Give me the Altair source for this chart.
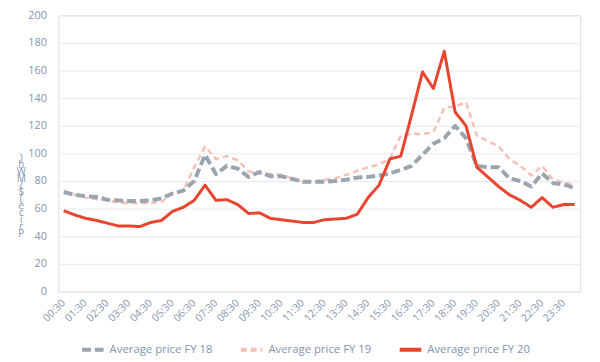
import altair as alt
import pandas as pd

times = []
for h in range(24):
    times.append(f"{h:02d}:30")
    times.append(f"{h+1:02d}:00")

fy18 = [72, 70, 69, 68.5, 66.5, 66, 65.5, 65.5, 66, 67.5, 71, 73, 80, 99, 85, 91,
        89, 83, 86.5, 83.5, 83.5, 81.5, 79.5, 79.5, 79.5, 80, 81, 82.5, 83, 84, 85.5, 88,
        91, 99, 107, 111, 120, 111, 91, 90, 90, 82, 80, 76, 85.5, 78.5, 77.5, 75]
fy19 = [73, 70, 68, 67, 66, 64.5, 64, 64, 64, 65, 71, 73, 90, 105, 96, 98,
        95, 87, 85.5, 85, 84.5, 82, 79.5, 79.5, 81, 82, 84.5, 87.5, 90, 92, 96, 113,
        114, 114, 115.5, 133, 134, 137, 113, 109, 105, 96, 91, 84, 91, 81, 79, 77]
fy20 = [58.5, 55.5, 53, 51.5, 49.5, 47.5, 47.5, 47, 50, 51.5, 58, 61, 66, 77, 66, 66.5,
        63, 56.5, 57, 53, 52, 51, 50, 50, 52, 52.5, 53, 56, 68, 77, 96, 98,
        128, 159, 147, 174, 130, 120, 90, 83, 76, 70, 66, 61, 68, 61, 63, 63]

series = ["Average price FY 18", "Average price FY 19", "Average price FY 20"]
colors = ["#9aa5af", "#f6c0b6", "#e8442f"]
dashes = [[9, 4], [6, 4], [1, 0]]
widths = [4, 2.5, 3]
tick_labels = times[0::2]

rows = []
for name, vals in zip(series, [fy18, fy19, fy20]):
    for t, v in zip(times, vals):
        rows.append({"time": t, "price": v, "series": name})
df = pd.DataFrame(rows)

label_color = "#8496b0"
ytitle = list(reversed(list("Price($/MWh)")))

x = alt.X("time:N", sort=times, scale=alt.Scale(type="point", padding=0.5),
          axis=alt.Axis(values=tick_labels, labelAngle=-45, labelFontSize=10.5,
                        labelColor=label_color, ticks=False, domain=False,
                        labelPadding=6, labelOffset=-4, title=None, grid=False,
                        labelFont="Open Sans"))
y = alt.Y("price:Q", scale=alt.Scale(domain=[0, 200]),
          axis=alt.Axis(values=list(range(0, 201, 20)), ticks=False, domain=False,
                        labelColor=label_color, labelFontSize=11, labelPadding=12,
                        gridColor="#e6ebf2", gridWidth=1, labelFont="Open Sans",
                        title=ytitle, titleAngle=0, titleFontSize=10, titleFontWeight="normal",
                        titleColor=label_color, titleLineHeight=7, titleX=-38, titleY=139,
                        titleBaseline="top", titleAlign="center", titleFont="Open Sans"))
legend = alt.Legend(orient="none", legendX=22, legendY=326, direction="horizontal", title=None,
                    symbolType="stroke", symbolSize=480, symbolStrokeWidth=4,
                    labelFontSize=11.5, labelColor=label_color, columnPadding=20,
                    labelFont="Open Sans")
color = alt.Color("series:N", scale=alt.Scale(domain=series, range=colors), legend=legend)
dash = alt.StrokeDash("series:N", scale=alt.Scale(domain=series, range=dashes), legend=legend)

order = [1, 0, 2]
layers = []
for i in order:
    layers.append(
        alt.Chart(df[df.series == series[i]]).mark_line(strokeWidth=widths[i], strokeJoin="round")
        .encode(x=x, y=y, color=color, strokeDash=dash)
    )

chart = alt.layer(*layers).properties(
    width=529, height=280,
    autosize=alt.AutoSizeParams(type="none"),
    padding={"left": 51, "top": 5, "right": 12, "bottom": 66},
).configure_view(stroke=None).configure(background="white")

chart.save("out.html", embed_options={"renderer": "svg", "actions": False})
